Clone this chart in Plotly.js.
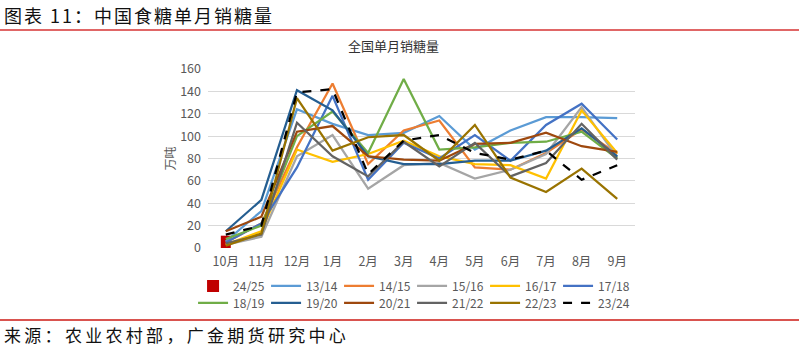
<!DOCTYPE html>
<html>
<head>
<meta charset="utf-8">
<script src="https://cdn.plot.ly/plotly-3.0.1.min.js"></script>
<style>
html,body{margin:0;padding:0;background:#fff;width:799px;height:351px;overflow:hidden;font-family:"Noto Sans CJK SC","Noto Sans",sans-serif;}
#hdr{position:absolute;left:4px;top:4px;font-size:18px;letter-spacing:2.0px;color:#111;line-height:22px;white-space:nowrap;}
#hline{position:absolute;left:0;top:29px;width:799px;height:2px;background:#E06666;}
#fline{position:absolute;left:0;top:319px;width:799px;height:2px;background:#D9534F;}
#ftr{position:absolute;left:4px;top:323px;font-size:17px;letter-spacing:3.3px;color:#111;line-height:24px;white-space:nowrap;}
#chart{position:absolute;left:0;top:0;width:799px;height:351px;}
</style>
</head>
<body>
<div id="chart"></div>
<div id="hdr">图表 11：中国食糖单月销糖量</div>
<div id="hline"></div>
<div id="fline"></div>
<div id="ftr">来源：农业农村部，广金期货研究中心</div>
<script>
const months = ["10月","11月","12月","1月","2月","3月","4月","5月","6月","7月","8月","9月"];

const s2425 = [11];
const s1314 = [6, 33, 124, 111, 101, 103, 118, 88, 105, 117, 117, 116];
const s1415 = [5, 22, 90, 147, 75, 105, 114, 72, 70, 85, 106, 84];
const s1516 = [3, 10, 82, 101, 53, 74, 76, 62, 70, 84, 126, 81];
const s1617 = [3, 15, 88, 77, 84, 96, 82, 75, 74, 62, 123, 85];
const s1718 = [5, 22, 72, 136, 61, 94, 80, 101, 78, 110, 129, 97];
const s1819 = [8, 20, 100, 122, 85, 151, 88, 90, 94, 95, 104, 80];
const s1920 = [15, 43, 141, 123, 82, 75, 75, 78, 78, 87, 107, 82];
const s2021 = [15, 28, 104, 109, 82, 79, 78, 93, 94, 103, 91, 86];
const s2122 = [4, 12, 112, 82, 64, 95, 73, 94, 64, 76, 111, 79];
const s2223 = [2, 13, 134, 87, 99, 101, 78, 110, 63, 50, 71, 44];
const s2324 = [12, 20, 139, 142, 66, 96, 101, 85, 79, 87, 61, 74];

const lineSeries = [
  ["13/14", s1314, "#5B9BD5", "solid"],
  ["14/15", s1415, "#ED7D31", "solid"],
  ["15/16", s1516, "#A5A5A5", "solid"],
  ["16/17", s1617, "#FFC000", "solid"],
  ["17/18", s1718, "#4472C4", "solid"],
  ["18/19", s1819, "#70AD47", "solid"],
  ["19/20", s1920, "#255E91", "solid"],
  ["20/21", s2021, "#9E480E", "solid"],
  ["21/22", s2122, "#636363", "solid"],
  ["22/23", s2223, "#997300", "solid"],
  ["23/24", s2324, "#000000", "dash"]
];

const traces = [{
  type: "bar", name: "24/25", x: months.slice(0, s2425.length), y: s2425,
  marker: {color: "#C00000"}, width: 0.28, legend: "legend"
}];
lineSeries.forEach(([name, ys, color, dash], i) => {
  traces.push({type: "scatter", mode: "lines", name: name, x: months, y: ys,
    line: {color: color, width: 2.25, dash: dash},
    legend: i < 5 ? "legend" : "legend2"});
});

const legBase = {orientation: "h", x: -0.035, xanchor: "left", yanchor: "top",
  font: {size: 12, color: "#595959"}, itemwidth: 30, traceorder: "normal",
  entrywidth: 28, bgcolor: "rgba(0,0,0,0)", borderwidth: 0};

const layout = {
  width: 799, height: 351,
  margin: {l: 208, r: 164, t: 69, b: 103},
  paper_bgcolor: "rgba(0,0,0,0)", plot_bgcolor: "#fff",
  font: {family: "Noto Sans CJK SC, Noto Sans, sans-serif", color: "#595959", size: 12},
  showlegend: true,
  legend: Object.assign({}, legBase, {y: -0.131}),
  legend2: Object.assign({}, legBase, {y: -0.226}),
  xaxis: {type: "category", range: [-0.5, 11.5], showgrid: false, zeroline: false,
    showline: false, ticks: "", tickfont: {size: 12.5, color: "#595959"}, ticklabelstandoff: 4},
  yaxis: {range: [0, 160], dtick: 20, showgrid: true, gridcolor: "#D9D9D9", gridwidth: 1,
    zeroline: false, showline: false, ticks: "", tickfont: {size: 12.5, color: "#595959"},
    ticklabelstandoff: 6,
    title: {text: "万吨", font: {size: 12, color: "#595959"}, standoff: 1}},
  annotations: [{text: "全国单月销糖量", xref: "paper", yref: "paper", x: 0.435, y: 1.0,
    yanchor: "bottom", xanchor: "center", showarrow: false,
    font: {size: 13, color: "#333333"}, yshift: 12}]
};
Plotly.newPlot("chart", traces, layout, {displayModeBar: false, staticPlot: true});
</script>
</body>
</html>
